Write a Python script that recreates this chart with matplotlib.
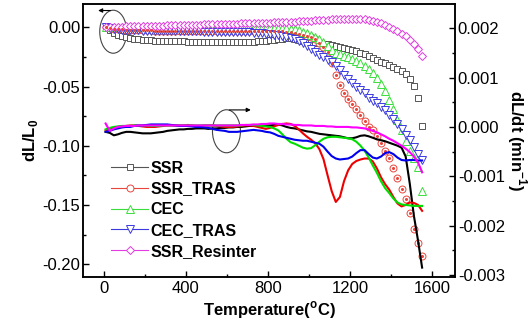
import matplotlib
matplotlib.use('Agg')
import matplotlib.pyplot as plt
from matplotlib.lines import Line2D
from matplotlib.patches import Ellipse
import numpy as np

plt.rcParams['font.family'] = ['Liberation Sans', 'DejaVu Sans']
plt.rcParams['axes.unicode_minus'] = False
plt.rcParams['mathtext.fontset'] = 'custom'
plt.rcParams['mathtext.rm'] = 'Liberation Sans'
plt.rcParams['mathtext.bf'] = 'Liberation Sans:bold'

# temperature grid (deg C), one value every 20 C
temp = np.arange(10, 1551, 20)

names = ['SSR', 'SSR_TRAS', 'CEC', 'CEC_TRAS', 'SSR_Resinter']

# dL/L0 (left axis, symbols)
ssr_dl = [0.0000, -0.0025, -0.0045, -0.0062, -0.0074, -0.0083, -0.0090, -0.0096, -0.0101, -0.0105,
          -0.0108, -0.0110, -0.0112, -0.0114, -0.0115, -0.0116, -0.0117, -0.0118, -0.0119, -0.0119,
          -0.0120, -0.0120, -0.0121, -0.0121, -0.0121, -0.0121, -0.0122, -0.0122, -0.0122, -0.0122,
          -0.0122, -0.0122, -0.0122, -0.0121, -0.0121, -0.0121, -0.0120, -0.0119, -0.0117, -0.0114,
          -0.0110, -0.0105, -0.0100, -0.0096, -0.0094, -0.0094, -0.0098, -0.0105, -0.0114, -0.0121,
          -0.0127, -0.0131, -0.0135, -0.0139, -0.0144, -0.0150, -0.0156, -0.0163, -0.0171, -0.0180,
          -0.0190, -0.0202, -0.0215, -0.0229, -0.0245, -0.0262, -0.0278, -0.0292, -0.0305, -0.0318,
          -0.0332, -0.0348, -0.0368, -0.0395, -0.0435, -0.0495, -0.0600, -0.0830]
tras_dl = [0.0000, -0.0006, -0.0011, -0.0015, -0.0018, -0.0020, -0.0022, -0.0023, -0.0024, -0.0025,
           -0.0026, -0.0026, -0.0027, -0.0027, -0.0027, -0.0028, -0.0028, -0.0028, -0.0028, -0.0029,
           -0.0029, -0.0029, -0.0029, -0.0029, -0.0030, -0.0030, -0.0030, -0.0030, -0.0030, -0.0030,
           -0.0030, -0.0030, -0.0030, -0.0030, -0.0030, -0.0030, -0.0030, -0.0030, -0.0031, -0.0031,
           -0.0031, -0.0032, -0.0033, -0.0034, -0.0036, -0.0040, -0.0046, -0.0053, -0.0062, -0.0072,
           -0.0085, -0.0102, -0.0130, -0.0168, -0.0212, -0.0305, -0.0400, -0.0488, -0.0555, -0.0605,
           -0.0648, -0.0690, -0.0738, -0.0790, -0.0840, -0.0870, -0.0920, -0.0980, -0.1040, -0.1105,
           -0.1185, -0.1270, -0.1365, -0.1450, -0.1570, -0.1700, -0.1820, -0.1930]
cec_dl = [0.0000, 0.0002, 0.0004, 0.0005, 0.0006, 0.0006, 0.0007, 0.0007, 0.0007, 0.0008,
          0.0008, 0.0008, 0.0008, 0.0008, 0.0008, 0.0008, 0.0008, 0.0008, 0.0008, 0.0008,
          0.0008, 0.0008, 0.0008, 0.0008, 0.0008, 0.0008, 0.0007, 0.0007, 0.0007, 0.0007,
          0.0006, 0.0006, 0.0005, 0.0005, 0.0004, 0.0004, 0.0003, 0.0002, 0.0001, 0.0000,
          -0.0001, -0.0002, -0.0003, -0.0005, -0.0008, -0.0012, -0.0018, -0.0026, -0.0036, -0.0048,
          -0.0062, -0.0080, -0.0102, -0.0127, -0.0158, -0.0192, -0.0213, -0.0228, -0.0240, -0.0252,
          -0.0265, -0.0282, -0.0300, -0.0325, -0.0350, -0.0385, -0.0425, -0.0480, -0.0540, -0.0610,
          -0.0690, -0.0780, -0.0870, -0.0960, -0.1040, -0.1100, -0.1180, -0.1380]
cectras_dl = [0.0000, -0.0007, -0.0013, -0.0017, -0.0020, -0.0022, -0.0024, -0.0025, -0.0026, -0.0027,
              -0.0028, -0.0029, -0.0030, -0.0030, -0.0031, -0.0031, -0.0032, -0.0032, -0.0033, -0.0033,
              -0.0034, -0.0034, -0.0035, -0.0035, -0.0036, -0.0036, -0.0037, -0.0037, -0.0038, -0.0038,
              -0.0039, -0.0040, -0.0040, -0.0041, -0.0042, -0.0043, -0.0045, -0.0047, -0.0050, -0.0053,
              -0.0057, -0.0061, -0.0066, -0.0072, -0.0080, -0.0089, -0.0100, -0.0115, -0.0135, -0.0158,
              -0.0185, -0.0210, -0.0232, -0.0252, -0.0272, -0.0295, -0.0325, -0.0360, -0.0398, -0.0435,
              -0.0468, -0.0500, -0.0530, -0.0555, -0.0600, -0.0620, -0.0640, -0.0670, -0.0700, -0.0740,
              -0.0775, -0.0815, -0.0855, -0.0905, -0.0955, -0.1010, -0.1065, -0.1120]
resinter_dl = [0.0000, 0.0003, 0.0005, 0.0006, 0.0007, 0.0008, 0.0009, 0.0010, 0.0011, 0.0011,
               0.0012, 0.0013, 0.0013, 0.0014, 0.0015, 0.0016, 0.0016, 0.0017, 0.0018, 0.0019,
               0.0020, 0.0021, 0.0022, 0.0023, 0.0024, 0.0025, 0.0026, 0.0027, 0.0028, 0.0029,
               0.0030, 0.0031, 0.0032, 0.0033, 0.0034, 0.0035, 0.0036, 0.0037, 0.0038, 0.0039,
               0.0040, 0.0041, 0.0042, 0.0044, 0.0045, 0.0047, 0.0049, 0.0051, 0.0053, 0.0055,
               0.0057, 0.0059, 0.0061, 0.0063, 0.0065, 0.0067, 0.0069, 0.0071, 0.0072, 0.0073,
               0.0073, 0.0072, 0.0070, 0.0067, 0.0062, 0.0055, 0.0046, 0.0035, 0.0022, 0.0007,
               -0.0010, -0.0030, -0.0052, -0.0077, -0.0105, -0.0138, -0.0180, -0.0240]

# dL/dt in 1e-3 min^-1 (right axis, lines)
ssr_rate = [-0.10, -0.12, -0.17, -0.15, -0.12, -0.10, -0.10, -0.11, -0.12, -0.13,
            -0.13, -0.13, -0.12, -0.11, -0.10, -0.08, -0.07, -0.06, -0.05, -0.05,
            -0.04, -0.04, -0.03, -0.03, -0.03, -0.04, -0.03, -0.03, -0.02, -0.02,
            -0.01, -0.01, 0.00, 0.00, 0.01, 0.02, 0.02, 0.03, 0.03, 0.03,
            0.03, 0.04, 0.05, 0.03, 0.00, -0.02, -0.03, -0.05, -0.07, -0.09,
            -0.10, -0.12, -0.14, -0.15, -0.16, -0.17, -0.18, -0.19, -0.21, -0.23,
            -0.23, -0.21, -0.18, -0.17, -0.19, -0.22, -0.25, -0.27, -0.29, -0.32,
            -0.35, -0.38, -0.42, -0.60, -1.15, -1.80, -2.30, -2.85]
tras_rate = [-0.07, -0.04, -0.02, 0.00, 0.01, 0.02, 0.03, 0.03, 0.02, 0.01,
             0.00, 0.00, 0.00, 0.01, 0.02, 0.03, 0.03, 0.03, 0.03, 0.03,
             0.04, 0.03, 0.02, 0.02, 0.03, 0.03, 0.03, 0.02, 0.01, 0.00,
             0.00, 0.00, 0.01, 0.02, 0.03, 0.03, 0.02, 0.00, -0.02, -0.04,
             -0.02, 0.01, 0.04, 0.06, 0.07, 0.06, 0.02, -0.05, -0.13, -0.20,
             -0.26, -0.33, -0.45, -0.65, -0.98, -1.30, -1.52, -1.42, -1.10, -0.88,
             -0.75, -0.69, -0.66, -0.64, -0.64, -0.70, -0.84, -1.02, -1.16, -1.27,
             -1.42, -1.55, -1.61, -1.58, -1.53, -1.54, -1.58, -1.70]
cec_rate = [-0.05, -0.02, 0.00, 0.01, 0.02, 0.02, 0.02, 0.03, 0.03, 0.03,
            0.03, 0.02, 0.02, 0.02, 0.03, 0.03, 0.03, 0.03, 0.03, 0.03,
            0.03, 0.03, 0.03, 0.03, 0.03, 0.03, 0.03, 0.03, 0.03, 0.03,
            0.03, 0.03, 0.03, 0.03, 0.04, 0.04, 0.04, 0.03, 0.02, 0.01,
            0.00, -0.03, -0.07, -0.15, -0.24, -0.31, -0.34, -0.38, -0.42, -0.44,
            -0.43, -0.37, -0.30, -0.24, -0.21, -0.20, -0.20, -0.21, -0.22, -0.23,
            -0.25, -0.30, -0.38, -0.48, -0.62, -0.78, -0.93, -1.10, -1.24, -1.34,
            -1.45, -1.53, -1.57, -1.58, -1.59, -1.60, -1.60, -1.60]
cectras_rate = [-0.10, -0.08, -0.05, -0.03, -0.01, 0.00, 0.00, 0.02, 0.03, 0.03,
                0.04, 0.05, 0.05, 0.05, 0.05, 0.05, 0.04, 0.03, 0.02, 0.02,
                0.02, 0.01, 0.00, 0.00, -0.01, -0.02, -0.04, -0.06, -0.07, -0.08,
                -0.10, -0.10, -0.10, -0.09, -0.08, -0.07, -0.06, -0.07, -0.08, -0.10,
                -0.11, -0.14, -0.18, -0.20, -0.22, -0.24, -0.26, -0.27, -0.28, -0.28,
                -0.30, -0.32, -0.34, -0.40, -0.50, -0.59, -0.64, -0.66, -0.65, -0.64,
                -0.60, -0.53, -0.47, -0.47, -0.55, -0.62, -0.64, -0.60, -0.53, -0.51,
                -0.55, -0.62, -0.67, -0.68, -0.67, -0.67, -0.68, -0.68]
resinter_rate = [0.07, -0.08, -0.03, 0.00, 0.01, 0.02, 0.02, 0.02, 0.03, 0.03,
                 0.03, 0.03, 0.03, 0.03, 0.03, 0.03, 0.03, 0.03, 0.03, 0.03,
                 0.03, 0.03, 0.03, 0.03, 0.03, 0.03, 0.03, 0.03, 0.03, 0.03,
                 0.03, 0.03, 0.03, 0.04, 0.04, 0.04, 0.05, 0.05, 0.06, 0.06,
                 0.07, 0.07, 0.06, 0.06, 0.05, 0.05, 0.04, 0.04, 0.03, 0.03,
                 0.03, 0.02, 0.02, 0.02, 0.01, 0.01, 0.00, 0.00, 0.00, 0.00,
                 -0.01, -0.01, -0.02, -0.03, -0.05, -0.08, -0.11, -0.15, -0.19, -0.24,
                 -0.28, -0.33, -0.38, -0.44, -0.51, -0.60, -0.72, -0.92]

dl_series = [ssr_dl, tras_dl, cec_dl, cectras_dl, resinter_dl]
rate_series = [ssr_rate, tras_rate, cec_rate, cectras_rate, resinter_rate]

sym_colors = ['#555555', '#e8453c', '#3ade3a', '#3a3ae0', '#e23ce2']
line_colors = ['black', '#ee0000', '#00dd00', '#0000ee', '#ff00ff']
markers = ['s', 'o', '^', 'v', 'D']
msizes = [4.3, 5.0, 5.2, 5.2, 4.2]

fig = plt.figure(figsize=(5.31, 3.27), dpi=100)
ax1 = fig.add_axes([83 / 531, 1 - 277 / 327, 372 / 531, 273 / 327])
ax2 = ax1.twinx()

for vals, c, m, ms in zip(dl_series, sym_colors, markers, msizes):
    ax1.plot(temp, vals, ls='none', marker=m, ms=ms, mfc='white', mec=c, mew=0.7)
# centre dot of the circle symbols
ax1.plot(temp, tras_dl, ls='none', marker='o', ms=1.2, mfc=sym_colors[1], mec=sym_colors[1])

for vals, c in zip(rate_series, line_colors):
    ax2.plot(temp, np.array(vals) * 1e-3, color=c, lw=1.5)

ax1.set_xlim(-100, 1710)
ax1.set_ylim(-0.2107, 0.0197)
ax2.set_ylim(-0.00304, 0.00249)

ax1.set_xticks([0, 400, 800, 1200, 1600])
ax1.set_xticks([200, 600, 1000, 1400], minor=True)
ax1.set_yticks([-0.20, -0.15, -0.10, -0.05, 0.00])
ax1.set_yticks([-0.175, -0.125, -0.075, -0.025], minor=True)
ax1.set_yticklabels(['-0.20', '-0.15', '-0.10', '-0.05', '0.00'])
ax2.set_yticks([-0.003, -0.002, -0.001, 0.0, 0.001, 0.002])
ax2.set_yticks([-0.0025, -0.0015, -0.0005, 0.0005, 0.0015], minor=True)
ax2.set_yticklabels(['-0.003', '-0.002', '-0.001', '0.000', '0.001', '0.002'])

for ax in (ax1, ax2):
    for s in ax.spines.values():
        s.set_linewidth(1.1)
ax1.tick_params(which='both', direction='in', labelsize=12, width=1.0, top=False)
ax1.tick_params(which='major', length=4.5)
ax1.tick_params(which='minor', length=2.5)
ax1.tick_params(axis='y', pad=2)
ax1.tick_params(axis='x', pad=3)
ax2.tick_params(which='both', direction='in', labelsize=12, width=1.0, pad=2)
ax2.tick_params(which='major', length=4.5)
ax2.tick_params(which='minor', length=2.5)

ax1.set_xlabel(r'Temperature($^\mathbf{o}$C)', fontsize=12, fontweight='bold', labelpad=2)
ax1.set_ylabel(r'dL/L$_\mathbf{0}$', fontsize=12, fontweight='bold', labelpad=2)
ax2.set_ylabel(r'dL/dt (min$^\mathbf{-1}$)', fontsize=12, fontweight='bold', rotation=270, labelpad=17)

# circles + arrows telling which axis each group belongs to
ax1.add_patch(Ellipse((47, -0.0037), 131, 0.0363, fill=False, ec='#444444', lw=0.8))
ax1.annotate('', xy=(-40, 0.0142), xytext=(47, 0.0142),
             arrowprops=dict(arrowstyle='-|>', color='black', lw=0.8, mutation_scale=6))
ax1.add_patch(Ellipse((598, -0.0877), 136, 0.0363, fill=False, ec='#444444', lw=0.8))
ax1.annotate('', xy=(730, -0.0697), xytext=(598, -0.0697),
             arrowprops=dict(arrowstyle='-|>', color='black', lw=0.8, mutation_scale=6))

handles = [Line2D([], [], color=c, lw=0.8, marker=m, ms=ms, mfc='white', mec=c, mew=0.7)
           for c, m, ms in zip(sym_colors, markers, msizes)]
ax2.legend(handles, names, loc='upper left', bbox_to_anchor=(0.055, 0.455), frameon=False,
           handlelength=2.3, handletextpad=0.15, labelspacing=0.36, borderpad=0,
           prop={'weight': 'bold', 'size': 11.5})

fig.savefig('out.png', dpi=100)
